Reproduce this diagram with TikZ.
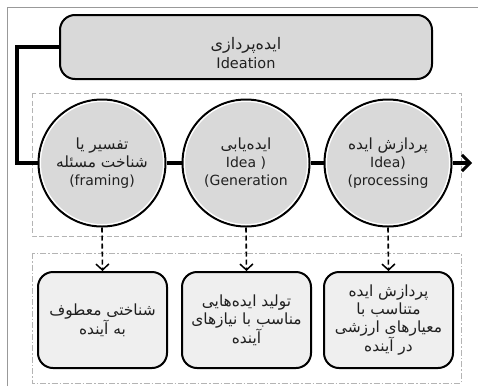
\documentclass[tikz,border=0pt]{standalone}
\usepackage{fontspec}
\setmainfont{DejaVu Sans}
\newfontfamily\fa[Script=Arabic,Scale=1.1]{DejaVu Sans}
\newfontfamily\latn{DejaVu Sans}
\TeXXeTstate=1
\usetikzlibrary{arrows.meta}
\definecolor{boxgray}{HTML}{D9D9D9}
\definecolor{lightbox}{HTML}{EFEFEF}
\definecolor{txt}{HTML}{202020}
\definecolor{grp}{HTML}{B4B4B4}
\definecolor{framec}{HTML}{999999}
\tikzset{
  frameline/.style={draw=framec, line width=1pt},
  topbox/.style={draw, line width=2pt, rounded corners=15pt, fill=boxgray, minimum width=372pt, minimum height=64pt, inner sep=0pt},
  toptext/.style={align=center, text=txt, inner sep=0pt, font=\fontsize{14.5}{19}\selectfont},
  stage/.style={circle, draw, line width=2pt, fill=boxgray, minimum size=127pt, inner sep=0pt, align=center, text=txt, font=\fontsize{14}{18}\selectfont},
  ring/.style={draw=white, line width=1.2pt},
  result/.style={draw, line width=2pt, rounded corners=15pt, fill=lightbox, minimum width=129pt, minimum height=96pt, inner sep=0pt, align=center, text=txt, font=\fontsize{14}{18}\selectfont},
  mainline/.style={line width=3.2pt},
  mainarrow/.style={line width=3.2pt, -{Straight Barb[length=8pt,width=16pt,line width=3pt]}},
  dasharrow/.style={line width=1.6pt, dash pattern=on 5pt off 3pt, -{Straight Barb[length=6pt,width=13pt,line width=1.5pt]}},
  grouprect/.style={draw=grp, line width=1pt, dash pattern=on 5pt off 2.5pt},
  grouprectb/.style={draw=grp, line width=1pt, dash pattern=on 6pt off 2pt on 1.5pt off 2pt},
}
\begin{document}
\begin{tikzpicture}[x=1pt,y=-1pt]
\useasboundingbox (0,0) rectangle (478,386);
\fill[white] (0,0) rectangle (478,386);
\draw[frameline] (7,386) -- (7,7) -- (478,7);
% group frames
\draw[grouprect] (32,93) rectangle (461,236);
\draw[grouprectb] (32,253) rectangle (461,383);
% top box
\node[topbox] (top) at (246,47) {};
\node[toptext] (toptxt) at (246,53) {\fa\beginR ایده‌پردازی\endR\\\latn Ideation};
% connector path coordinates
\coordinate (bend) at (17,163);
\coordinate (end) at (472,163);
% stages
\node[stage] (c1) at (102,163) {\fa\beginR تفسیر یا\endR\\\fa\beginR شناخت مسئله\endR\\\latn (framing)};
\node[stage] (c2) at (246,163) {\fa\beginR ایده‌یابی\endR\\\latn Idea )\\\latn (Generation};
\node[stage] (c3) at (388,163) {\fa\beginR پردازش ایده\endR\\\latn Idea)\\\latn (processing};
\foreach \c in {c1,c2,c3} \draw[ring] (\c.center) circle (61.6pt);
% main connector
\draw[mainline] (top.west) -| (bend) -- (c1.west);
\draw[mainline] (c1.east) -- (c2.west);
\draw[mainline] (c2.east) -- (c3.west);
\draw[mainarrow] (c3.east) -- (end);
% results
\node[result] (r1) at (102.5,320) {\fa\beginR شناختی معطوف\endR\\\fa\beginR به آینده\endR};
\node[result] (r2) at (246.5,320) {\fa\beginR تولید ایده‌هایی\endR\\\fa\beginR مناسب با نیازهای\endR\\\fa\beginR آینده\endR};
\node[result] (r3) at (388.5,320) {\fa\beginR پردازش ایده\endR\\\fa\beginR متناسب با\endR\\\fa\beginR معیارهای ارزشی\endR\\\fa\beginR در آینده\endR};
% dashed arrows
\draw[dasharrow] (c1.south) -- (r1.north);
\draw[dasharrow] (c2.south) -- (r2.north);
\draw[dasharrow] (c3.south) -- (r3.north);
\end{tikzpicture}
\end{document}
